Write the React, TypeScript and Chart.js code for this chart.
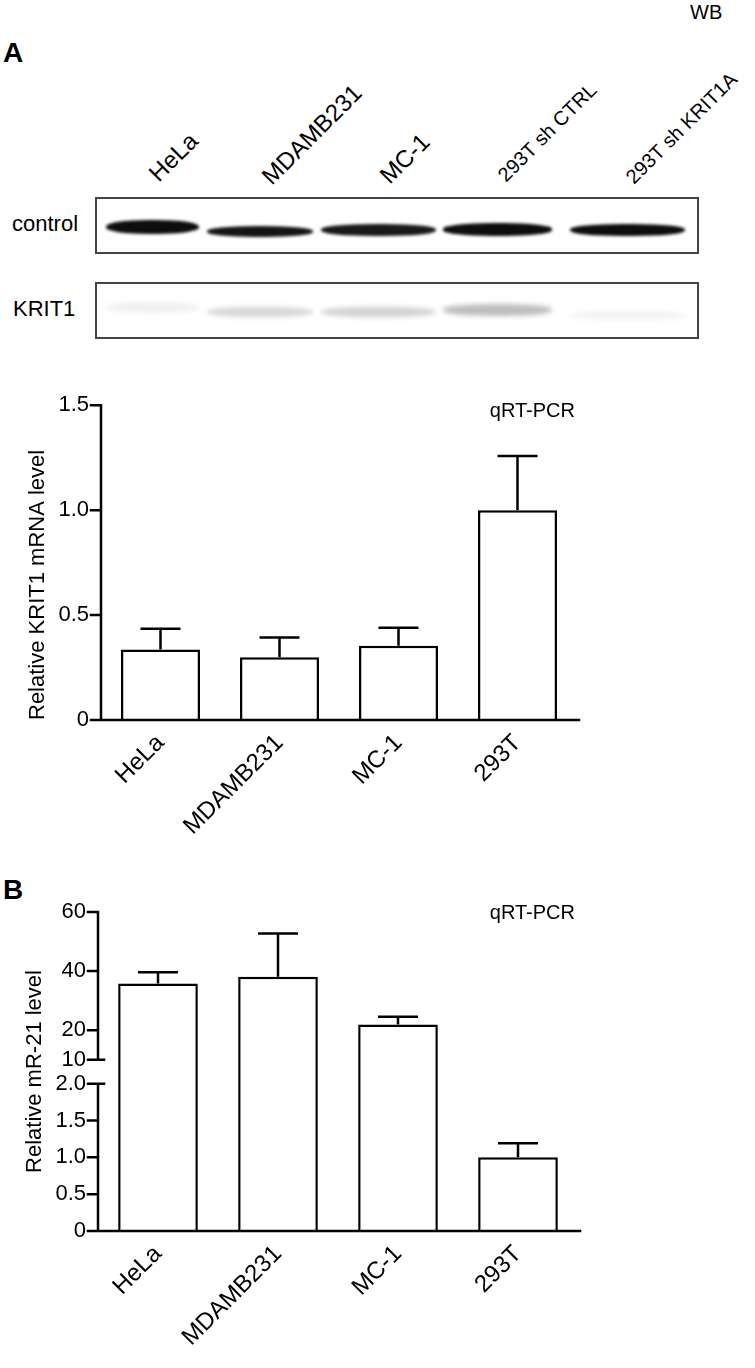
import React, { useEffect, useRef } from "react";
import { Chart, registerables } from "chart.js";

Chart.register(...registerables);

const FONT = "'Liberation Sans', Arial, Helvetica, sans-serif";
Chart.defaults.font.family = FONT;

// ---------------- Data ----------------
const categories = ["HeLa", "MDAMB231", "MC-1", "293T"];

const krit1Mean = [0.336, 0.299, 0.354, 1.0];
const krit1ErrTop = [0.435, 0.393, 0.44, 1.258];
const krit1TickValues = [0, 0.5, 1.0, 1.5];
const krit1TickLabels = ["0", "0.5", "1.0", "1.5"];

const mir21Mean = [35.8, 38.1, 21.9, 1.0];
const mir21ErrTop = [39.6, 52.7, 24.5, 1.19];
const mir21TickValues = [0, 0.5, 1.0, 1.5, 2.0, 10, 20, 40, 60];
const mir21TickLabels = ["0", "0.5", "1.0", "1.5", "2.0", "10", "20", "40", "60"];
const mir21BreakLow = 2;
const mir21BreakHigh = 10;

const blotLanes = ["HeLa", "MDAMB231", "MC-1", "293T sh CTRL", "293T sh KRIT1A"];
const blotRows = ["control", "KRIT1"];
const controlBandIntensity = [0.95, 0.92, 0.9, 0.95, 0.95];
const krit1BandIntensity = [0.06, 0.16, 0.18, 0.26, 0.05];

// ---------------- Layout (positions / styles) ----------------
const laneSpan = [
  [106, 199],
  [207, 313],
  [321, 436],
  [443, 552],
  [570, 685],
];
const laneLabelAnchor = [
  [159, 183, 24],
  [272, 186, 24],
  [390, 185, 24],
  [506, 183, 20],
  [634, 185, 20],
];
const controlBandY = [227, 231, 230, 229, 230];
const controlBandThick = [14, 11, 12, 13, 12];
const krit1BandY = [307, 312, 312, 310, 315];
const krit1BandThick = [11, 10, 10, 12, 9];

// broken axis mapping for panel B
const GAP_UNITS = 0.326;
const UPPER_FACTOR = 0.0401;
const brk = (v: number) =>
  v <= mir21BreakLow ? v : mir21BreakLow + GAP_UNITS + (v - mir21BreakHigh) * UPPER_FACTOR;
const ident = (v: number) => v;

function errorBarPlugin(tops: number[], map: (v: number) => number) {
  return {
    id: "errorBars",
    afterDatasetsDraw(chart: any) {
      const { ctx } = chart;
      const ys = chart.scales.y;
      const meta = chart.getDatasetMeta(0);
      ctx.save();
      ctx.strokeStyle = "#000";
      ctx.lineWidth = 2.5;
      ctx.lineCap = "butt";
      meta.data.forEach((bar: any, i: number) => {
        const yE = ys.getPixelForValue(map(tops[i]));
        ctx.beginPath();
        ctx.moveTo(bar.x, bar.y);
        ctx.lineTo(bar.x, yE);
        ctx.moveTo(bar.x - 20, yE);
        ctx.lineTo(bar.x + 20, yE);
        ctx.stroke();
      });
      ctx.restore();
    },
  };
}

function axesPlugin(segments: number[][], breaks: number[]) {
  return {
    id: "axesLines",
    afterDatasetsDraw(chart: any) {
      const { ctx, chartArea } = chart;
      const ys = chart.scales.y;
      const L = chartArea.left;
      ctx.save();
      ctx.strokeStyle = "#000";
      ctx.lineWidth = 2.5;
      ctx.lineCap = "square";
      ctx.beginPath();
      segments.forEach(([a, b]) => {
        ctx.moveTo(L, ys.getPixelForValue(a));
        ctx.lineTo(L, ys.getPixelForValue(b));
      });
      ys.ticks.forEach((t: any) => {
        const py = ys.getPixelForValue(t.value);
        ctx.moveTo(L - 10, py);
        ctx.lineTo(L, py);
      });
      breaks.forEach((v) => {
        const py = ys.getPixelForValue(v);
        ctx.moveTo(L, py);
        ctx.lineTo(L + 6, py);
      });
      const by = ys.getPixelForValue(0);
      ctx.moveTo(L - 10, by);
      ctx.lineTo(chartArea.right + 2, by);
      ctx.stroke();
      ctx.restore();
    },
  };
}

type BarOpts = {
  values: number[];
  errTops: number[];
  tickValues: number[];
  tickLabels: string[];
  map: (v: number) => number;
  yMax: number;
  yTitle: string;
  yTitleAlign: "start" | "center" | "end";
  yTitlePad: number;
  yWidth: number;
  xHeight: number;
  padTop: number;
  padRight: number;
  segments: number[][];
  breaks: number[];
};

function BarChart(props: BarOpts & { left: number; top: number; width: number; height: number }) {
  const ref = useRef<HTMLCanvasElement | null>(null);
  useEffect(() => {
    if (!ref.current) return;
    const p = props;
    const chart = new Chart(ref.current, {
      type: "bar",
      data: {
        labels: categories,
        datasets: [
          {
            data: p.values.map(p.map),
            backgroundColor: "#ffffff",
            borderColor: "#000000",
            borderWidth: 2.5,
            barPercentage: 0.664,
            categoryPercentage: 1,
          },
        ],
      },
      options: {
        responsive: false,
        animation: false,
        devicePixelRatio: 1,
        layout: { padding: { top: p.padTop, right: p.padRight, left: 0, bottom: 0 } },
        plugins: { legend: { display: false }, tooltip: { enabled: false } },
        scales: {
          x: {
            grid: { display: false, drawTicks: false },
            border: { display: false },
            ticks: {
              color: "#000",
              font: { size: 24, family: FONT },
              maxRotation: 45,
              minRotation: 45,
              autoSkip: false,
              padding: 9,
            },
            afterFit: (s: any) => {
              s.height = p.xHeight;
            },
          },
          y: {
            min: 0,
            max: p.map(p.yMax),
            grid: { display: false, drawTicks: false },
            border: { display: false },
            afterBuildTicks: (s: any) => {
              s.ticks = p.tickValues.map((v) => ({ value: p.map(v) }));
            },
            ticks: {
              color: "#000",
              font: { size: 22, family: FONT },
              autoSkip: false,
              padding: 12,
              callback: (_v: any, i: number) => p.tickLabels[i],
            },
            title: {
              display: true,
              text: p.yTitle,
              color: "#000",
              font: { size: 22, family: FONT },
              align: p.yTitleAlign,
              padding: { top: p.yTitlePad, bottom: 0 },
            },
            afterFit: (s: any) => {
              s.width = p.yWidth;
            },
          },
        },
      },
      plugins: [errorBarPlugin(p.errTops, p.map), axesPlugin(p.segments, p.breaks)],
    } as any);
    return () => chart.destroy();
  }, []);
  return (
    <canvas
      ref={ref}
      width={props.width}
      height={props.height}
      style={{ position: "absolute", left: props.left, top: props.top, width: props.width, height: props.height }}
    />
  );
}

function Txt(props: { x: number; baseline: number; size: number; bold?: boolean; right?: boolean; children: any }) {
  const { x, baseline, size, bold, right } = props;
  const style: any = {
    position: "absolute",
    top: baseline - 0.8465 * size,
    fontSize: size,
    lineHeight: `${size}px`,
    fontFamily: FONT,
    fontWeight: bold ? 700 : 400,
    whiteSpace: "nowrap",
    color: "#000",
  };
  if (right) style.right = 755 - x;
  else style.left = x;
  return <div style={style}>{props.children}</div>;
}

function RotLabel(props: { x: number; baseline: number; size: number; text: string }) {
  const { x, baseline, size, text } = props;
  const asc = 0.8465 * size;
  return (
    <div
      style={{
        position: "absolute",
        left: x,
        top: baseline - asc,
        fontSize: size,
        lineHeight: `${size}px`,
        fontFamily: FONT,
        whiteSpace: "nowrap",
        color: "#000",
        transformOrigin: `0px ${asc}px`,
        transform: "rotate(-45deg)",
      }}
    >
      {text}
    </div>
  );
}

function BlotBox(props: { top: number; intensities: number[]; bandY: number[]; thick: number[]; blur: number }) {
  const boxLeft = 95;
  return (
    <div
      style={{
        position: "absolute",
        left: boxLeft,
        top: props.top,
        width: 604,
        height: 57,
        border: "2.5px solid #444",
        boxSizing: "border-box",
        background: "#fff",
        overflow: "hidden",
      }}
    >
      {props.intensities.map((a, i) => (
        <div
          key={i}
          style={{
            position: "absolute",
            left: laneSpan[i][0] - boxLeft - 2,
            width: laneSpan[i][1] - laneSpan[i][0],
            top: props.bandY[i] - props.top - props.thick[i] / 2 - 2,
            height: props.thick[i],
            background: `rgba(0,0,0,${a})`,
            borderRadius: "45%",
            filter: `blur(${props.blur}px)`,
          }}
        />
      ))}
    </div>
  );
}

export default function App() {
  useEffect(() => {
    document.body.style.background = "#fff";
  }, []);
  return (
    <div style={{ position: "absolute", left: 0, top: 0, width: 755, height: 1368, background: "#fff", overflow: "hidden" }}>
      <Txt x={690} baseline={19} size={20}>WB</Txt>
      <Txt x={3} baseline={63} size={28} bold>A</Txt>
      {blotLanes.map((t, i) => (
        <RotLabel key={t} x={laneLabelAnchor[i][0]} baseline={laneLabelAnchor[i][1]} size={laneLabelAnchor[i][2]} text={t} />
      ))}
      <Txt x={12} baseline={232} size={22}>{blotRows[0]}</Txt>
      <BlotBox top={197} intensities={controlBandIntensity} bandY={controlBandY} thick={controlBandThick} blur={1.6} />
      <Txt x={13} baseline={317} size={22}>{blotRows[1]}</Txt>
      <BlotBox top={282} intensities={krit1BandIntensity} bandY={krit1BandY} thick={krit1BandThick} blur={2.5} />

      <BarChart
        left={0}
        top={380}
        width={600}
        height={480}
        values={krit1Mean}
        errTops={krit1ErrTop}
        tickValues={krit1TickValues}
        tickLabels={krit1TickLabels}
        map={ident}
        yMax={1.5}
        yTitle="Relative KRIT1 mRNA level"
        yTitleAlign="start"
        yTitlePad={25}
        yWidth={101}
        xHeight={140}
        padTop={21}
        padRight={23}
        segments={[[0, 1.5]]}
        breaks={[]}
      />
      <Txt x={575} baseline={417} size={20} right>qRT-PCR</Txt>

      <Txt x={3} baseline={900} size={28} bold>B</Txt>
      <BarChart
        left={0}
        top={880}
        width={600}
        height={488}
        values={mir21Mean}
        errTops={mir21ErrTop}
        tickValues={mir21TickValues}
        tickLabels={mir21TickLabels}
        map={brk}
        yMax={60}
        yTitle="Relative mR-21 level"
        yTitleAlign="center"
        yTitlePad={22}
        yWidth={98}
        xHeight={137}
        padTop={32}
        padRight={22}
        segments={[
          [0, brk(mir21BreakLow)],
          [brk(mir21BreakHigh), brk(60)],
        ]}
        breaks={[brk(mir21BreakLow), brk(mir21BreakHigh)]}
      />
      <Txt x={575} baseline={919} size={20} right>qRT-PCR</Txt>
    </div>
  );
}
